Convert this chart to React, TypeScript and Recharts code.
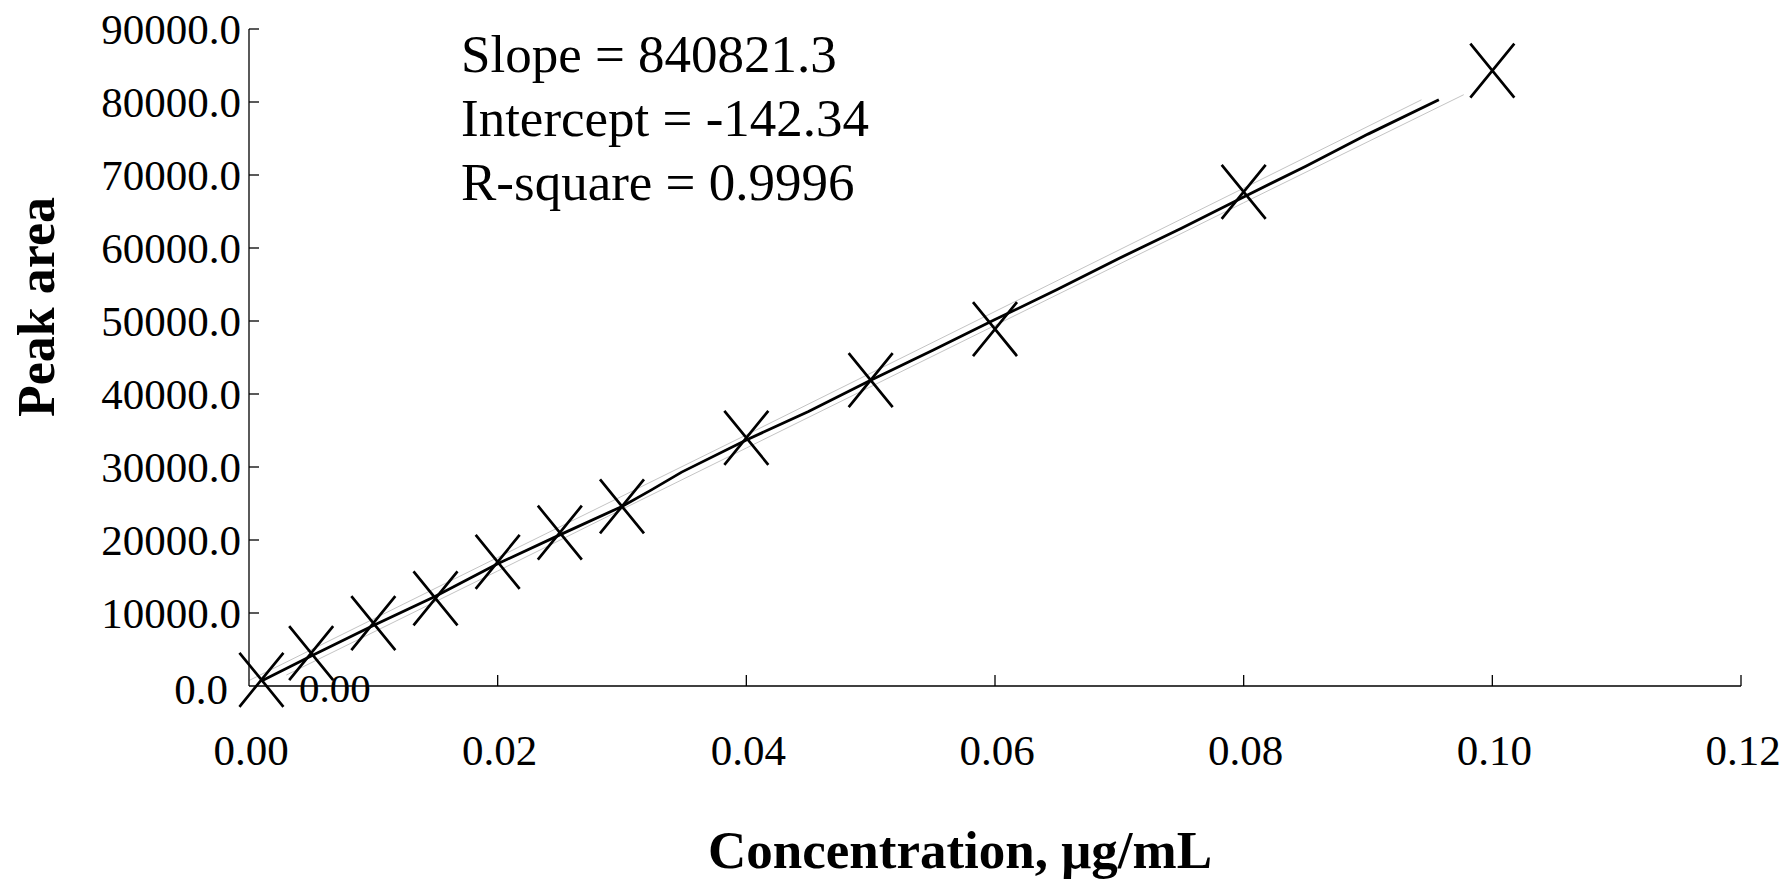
import React from 'react';
import { ComposedChart, XAxis, YAxis, Scatter, Line } from 'recharts';

// Measured calibration points
const concentrations = [0.001, 0.005, 0.01, 0.015, 0.02, 0.025, 0.03, 0.04, 0.05, 0.06, 0.08, 0.1];
const peakAreas = [850, 4500, 8600, 12000, 17000, 21000, 24600, 34000, 41900, 48900, 67700, 84300];

// Fitted line as drawn
const fitX = [0.001, 0.005, 0.01, 0.015, 0.02, 0.025, 0.03, 0.0323, 0.0348, 0.04, 0.045, 0.05, 0.055, 0.06, 0.065, 0.07, 0.075, 0.08, 0.085, 0.09, 0.0957];
const fitY = [700, 4100, 8300, 12300, 16750, 20700, 24600, 26800, 29300, 33700, 37600, 41900, 46000, 50200, 54300, 58600, 62700, 67000, 71200, 75600, 80300];

// Confidence band lines
const upperX = [0, 0.02, 0.03, 0.04, 0.06, 0.08, 0.0943];
const upperY = [750, 17600, 26000, 34400, 51300, 68200, 80300];
const lowerX = [0.003, 0.02, 0.03, 0.04, 0.06, 0.08, 0.0977];
const lowerY = [1500, 15750, 24200, 32600, 49400, 66200, 81000];

const xTicks = [0, 0.02, 0.04, 0.06, 0.08, 0.1, 0.12];
const yTicks = [0, 10000, 20000, 30000, 40000, 50000, 60000, 70000, 80000, 90000];

const annotations = ['Slope = 840821.3', 'Intercept = -142.34', 'R-square = 0.9996'];
const xTitle = 'Concentration, \u03bcg/mL';
const yTitle = 'Peak area';
const pointLabel = '0.00';

const FONT = '"Liberation Serif", "Times New Roman", serif';

const scatterData = concentrations.map((x, i) => ({ x, y: peakAreas[i] }));
const fitData = fitX.map((x, i) => ({ x, y: fitY[i] }));
const upperData = upperX.map((x, i) => ({ x, y: upperY[i] }));
const lowerData = lowerX.map((x, i) => ({ x, y: lowerY[i] }));

const YTick = (props: any) => {
  const { x, y, payload } = props;
  const v = payload.value as number;
  const isZero = v === 0;
  return (
    <g>
      {!isZero && <line x1={x} y1={y} x2={x + 10} y2={y} stroke="#000" strokeWidth={1.3} />}
      <text
        x={isZero ? x - 21 : x - 8}
        y={isZero ? y + 3 : y}
        dy={15}
        textAnchor="end"
        fontFamily={FONT}
        fontSize={43}
        fill="#000"
      >
        {v.toFixed(1)}
      </text>
    </g>
  );
};

const XTick = (props: any) => {
  const { x, y, payload } = props;
  const v = payload.value as number;
  return (
    <g>
      {v !== 0 && <line x1={x} y1={y} x2={x} y2={y - 11} stroke="#000" strokeWidth={1.3} />}
      <text x={x + 2} y={y + 79} textAnchor="middle" fontFamily={FONT} fontSize={43} fill="#000">
        {v.toFixed(2)}
      </text>
    </g>
  );
};

const XMarker = (props: any) => {
  const { cx, cy } = props;
  if (cx == null || cy == null) return <g />;
  return (
    <path
      d={`M${cx - 22},${cy - 27}L${cx + 22},${cy + 27}M${cx - 22},${cy + 27}L${cx + 22},${cy - 27}`}
      stroke="#000"
      strokeWidth={2.7}
      fill="none"
    />
  );
};

export default function App() {
  return (
    <div style={{ position: 'absolute', left: 0, top: 0, width: 1791, height: 880, background: '#fff' }}>
      <ComposedChart width={1791} height={880} margin={{ top: 29, right: 50, left: 49, bottom: 94 }}>
        <XAxis
          type="number"
          dataKey="x"
          domain={[0, 0.12]}
          ticks={xTicks}
          height={100}
          tickSize={0}
          tickMargin={0}
          tickLine={false}
          axisLine={{ stroke: '#000', strokeWidth: 1.3 }}
          tick={<XTick />}
          interval={0}
        />
        <YAxis
          type="number"
          dataKey="y"
          domain={[0, 90000]}
          ticks={yTicks}
          width={200}
          tickSize={0}
          tickMargin={0}
          tickLine={false}
          axisLine={{ stroke: '#000', strokeWidth: 1.3 }}
          tick={<YTick />}
          interval={0}
        />
        <Line data={upperData} dataKey="y" stroke="#c4c4c4" strokeWidth={1} dot={false} isAnimationActive={false} />
        <Line data={lowerData} dataKey="y" stroke="#c4c4c4" strokeWidth={1} dot={false} isAnimationActive={false} />
        <Line data={fitData} dataKey="y" stroke="#000" strokeWidth={2.8} dot={false} isAnimationActive={false} />
        <Scatter data={scatterData} dataKey="y" shape={<XMarker />} isAnimationActive={false} />
      </ComposedChart>
      <svg
        width={1791}
        height={880}
        style={{ position: 'absolute', left: 0, top: 0, pointerEvents: 'none' }}
      >
        {annotations.map((t, i) => (
          <text key={t} x={461} y={72 + i * 64} fontFamily={FONT} fontSize={53} fill="#000">
            {t}
          </text>
        ))}
        <text
          transform="translate(54,307) rotate(-90)"
          textAnchor="middle"
          fontFamily={FONT}
          fontWeight="bold"
          fontSize={52}
          fill="#000"
        >
          {yTitle}
        </text>
        <text x={960} y={868} textAnchor="middle" fontFamily={FONT} fontWeight="bold" fontSize={53} fill="#000">
          {xTitle}
        </text>
        <text x={299} y={702} fontFamily={FONT} fontSize={41} fill="#000">
          {pointLabel}
        </text>
      </svg>
    </div>
  );
}
